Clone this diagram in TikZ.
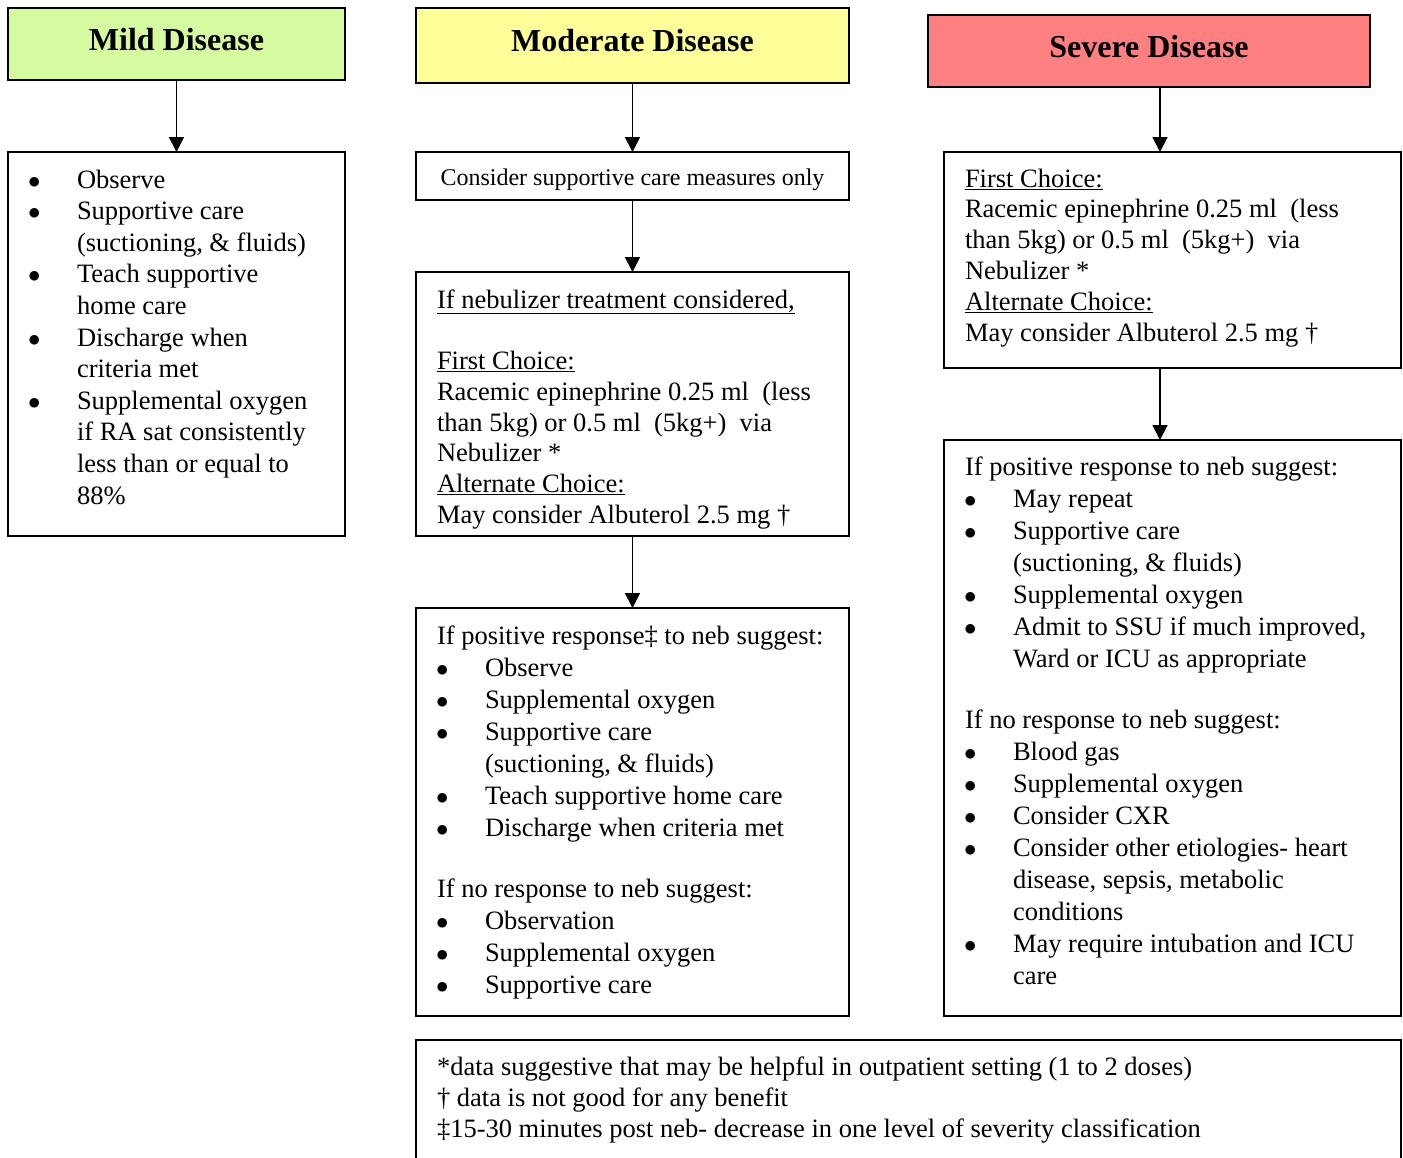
\documentclass[tikz,border=0pt]{standalone}
\usepackage{fontspec}
\setmainfont{Liberation Serif}
\usetikzlibrary{arrows.meta}

\definecolor{mildgreen}{RGB}{214,250,160}
\definecolor{modyellow}{RGB}{255,255,153}
\definecolor{sevred}{RGB}{255,128,128}

% bullet line with hanging indent
\newcommand{\itm}[1]{\par\hangindent=48pt\hangafter=1\noindent\makebox[48pt][l]{\hspace{-1pt}$\bullet$}#1}

\begin{document}
\begin{tikzpicture}[x=1pt, y=-1pt, >={Triangle[length=15pt,width=15pt]},
    every node/.style={inner sep=0pt, outer sep=0pt},
    head/.style={draw, line width=1.6pt, anchor=north west, font=\fontsize{32}{36}\selectfont\bfseries, text height=22pt, text depth=10pt},
    panel/.style={draw, line width=1.6pt, anchor=north west},
    txt/.style={anchor=base west, font=\fontsize{26.5}{32}\selectfont}]

\useasboundingbox (0,0) rectangle (1403,1157);

% Mild
\node[head, fill=mildgreen, minimum width=337pt, minimum height=72pt] (mildhead) at (8,8) {Mild Disease};
\node[panel, minimum width=337pt, minimum height=384pt] (mildbody) at (8,152) {};
\node[txt, font=\fontsize{26.5}{31.6}\selectfont] (mildtxt) at ([shift={(21,36)}]mildbody.north west) {\parbox[t]{310pt}{%
  \itm{Observe}
  \itm{Supportive care\\(suctioning, \& fluids)}
  \itm{Teach supportive\\home care}
  \itm{Discharge when\\criteria met}
  \itm{Supplemental oxygen\\if RA sat consistently\\less than or equal to\\88\%}}};
\draw[->, line width=1.8pt] (mildhead) -- (mildbody);

% Moderate
\node[head, fill=modyellow, minimum width=433pt, minimum height=75pt] (modhead) at (416,8) {Moderate Disease};
\node[panel, minimum width=433pt, minimum height=48pt, font=\fontsize{24}{28}\selectfont, text height=20pt, text depth=2pt] (modcare) at (416,152) {Consider supportive care measures only};
\node[panel, minimum width=433pt, minimum height=264pt] (modneb) at (416,272) {};
\node[txt, font=\fontsize{26.5}{30.7}\selectfont] (modnebtxt) at ([shift={(21,36)}]modneb.north west) {\parbox[t]{400pt}{%
  \underline{If nebulizer treatment considered,}\par\vspace{31pt}
  \underline{First Choice:}\\
  Racemic epinephrine 0.25 ml\ \ (less\\
  than 5kg) or 0.5 ml\ \ (5kg+)\ \ via\\
  Nebulizer *\\
  \underline{Alternate Choice:}\\
  May consider Albuterol 2.5 mg †}};
\node[panel, minimum width=433pt, minimum height=408pt] (modresp) at (416,608) {};
\node[txt] (modresptxt) at ([shift={(21,36)}]modresp.north west) {\parbox[t]{400pt}{%
  If positive response‡ to neb suggest:
  \itm{Observe}
  \itm{Supplemental oxygen}
  \itm{Supportive care\\(suctioning, \& fluids)}
  \itm{Teach supportive home care}
  \itm{Discharge when criteria met}
  \par\vspace{29pt}\noindent If no response to neb suggest:
  \itm{Observation}
  \itm{Supplemental oxygen}
  \itm{Supportive care}}};
\draw[->, line width=1.8pt] (modhead) -- (modcare);
\draw[->, line width=1.8pt] (modcare) -- (modneb);
\draw[->, line width=1.8pt] (modneb) -- (modresp);

% Severe
\node[head, fill=sevred, minimum width=442pt, minimum height=72pt] (sevhead) at (928,15) {Severe Disease};
\node[panel, minimum width=457pt, minimum height=216pt] (sevneb) at (944,152) {};
\node[txt, font=\fontsize{26.5}{30.8}\selectfont] (sevnebtxt) at ([shift={(21,35)}]sevneb.north west) {\parbox[t]{425pt}{%
  \underline{First Choice:}\\
  Racemic epinephrine 0.25 ml\ \ (less\\
  than 5kg) or 0.5 ml\ \ (5kg+)\ \ via\\
  Nebulizer *\\
  \underline{Alternate Choice:}\\
  May consider Albuterol 2.5 mg †}};
\node[panel, minimum width=457pt, minimum height=576pt] (sevresp) at (944,440) {};
\node[txt] (sevresptxt) at ([shift={(21,35)}]sevresp.north west) {\parbox[t]{425pt}{%
  If positive response to neb suggest:
  \itm{May repeat}
  \itm{Supportive care\\(suctioning, \& fluids)}
  \itm{Supplemental oxygen}
  \itm{Admit to SSU if much improved,\\Ward or ICU as appropriate}
  \par\vspace{29pt}\noindent If no response to neb suggest:
  \itm{Blood gas}
  \itm{Supplemental oxygen}
  \itm{Consider CXR}
  \itm{Consider other etiologies- heart\\disease, sepsis, metabolic\\conditions}
  \itm{May require intubation and ICU\\care}}};
\coordinate (sevx) at (1160,0);
\draw[->, line width=1.8pt] (sevhead.south -| sevx) -- (sevneb.north -| sevx);
\draw[->, line width=1.8pt] (sevneb.south -| sevx) -- (sevresp.north -| sevx);

% Footnotes
\node[panel, minimum width=985pt, minimum height=150pt] (notes) at (416,1040) {};
\node[txt, font=\fontsize{26.5}{31}\selectfont] (notestxt) at ([shift={(21,35)}]notes.north west) {\parbox[t]{950pt}{%
  *data suggestive that may be helpful in outpatient setting (1 to 2 doses)\\
  † data is not good for any benefit\\
  ‡15-30 minutes post neb- decrease in one level of severity classification}};

\end{tikzpicture}
\end{document}
